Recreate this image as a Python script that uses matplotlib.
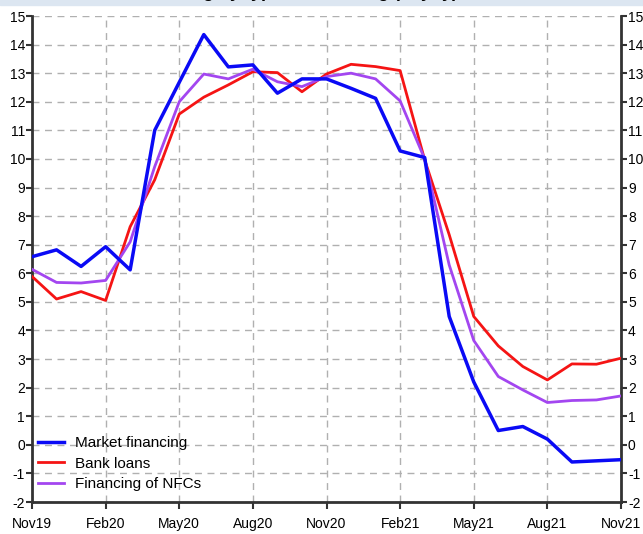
import matplotlib.pyplot as plt
from matplotlib.patches import Rectangle

plt.rcParams['axes.unicode_minus'] = False
plt.rcParams['font.family'] = ['Liberation Sans', 'DejaVu Sans']

months = ['Nov19', 'Dec19', 'Jan20', 'Feb20', 'Mar20', 'Apr20', 'May20', 'Jun20', 'Jul20',
          'Aug20', 'Sep20', 'Oct20', 'Nov20', 'Dec20', 'Jan21', 'Feb21', 'Mar21', 'Apr21',
          'May21', 'Jun21', 'Jul21', 'Aug21', 'Sep21', 'Oct21', 'Nov21']

market = [6.58, 6.82, 6.24, 6.93, 6.12, 11.0, 12.68, 14.35, 13.22, 13.29, 12.3, 12.8,
          12.8, 12.47, 12.12, 10.28, 10.05, 4.49, 2.2, 0.5, 0.64, 0.2, -0.6, -0.56, -0.52]
bank = [5.89, 5.1, 5.36, 5.05, 7.63, 9.27, 11.57, 12.16, 12.59, 13.05, 13.02, 12.35,
        12.97, 13.31, 13.23, 13.09, 9.97, 7.35, 4.49, 3.46, 2.74, 2.27, 2.83, 2.82, 3.03]
nfc = [6.14, 5.68, 5.66, 5.75, 7.1, 9.73, 12.0, 12.97, 12.8, 13.14, 12.7, 12.53,
       12.88, 13.0, 12.8, 12.03, 10.0, 6.29, 3.65, 2.39, 1.92, 1.48, 1.55, 1.57, 1.71]

x = list(range(len(months)))

fig = plt.figure(figsize=(6.43, 5.34), dpi=100)
fig.patches.append(Rectangle((0, 1 - 5 / 534), 1, 5 / 534, transform=fig.transFigure,
                             color='#dce6f1', zorder=0))
# title sits above the top edge, only its descenders show
fig.text(458 / 643, 1 + 3 / 534, 'NFC financing by type of financing (% yoy)', ha='right',
         va='baseline', fontsize=13, fontweight='bold', zorder=1)

ax = fig.add_axes([32 / 643, 1 - 502 / 534, 589 / 643, 486 / 534])

ax.plot(x, market, color='#0a0af5', lw=2.5, label='Market financing', zorder=4)
ax.plot(x, bank, color='#f51414', lw=2.0, label='Bank loans', zorder=3)
ax.plot(x, nfc, color='#a346f0', lw=2.0, label='Financing of NFCs', zorder=3)

ax.set_xlim(0, 24)
ax.set_ylim(-2, 15)
ax.set_xticks(x[::3])
ax.set_xticklabels(months[::3])
ax.set_yticks(range(-2, 16))

ax.grid(True, color='#b0b0b0', linestyle=(0, (5, 4)), lw=1.0)
ax.set_axisbelow(True)

for side in ['left', 'right', 'bottom']:
    ax.spines[side].set_linewidth(2.0)
    ax.spines[side].set_color('#333333')
ax.spines['top'].set_visible(False)

ax.tick_params(axis='y', which='both', left=True, right=True, labelleft=True,
               labelright=True, direction='out', length=4, width=1.5, color='#333333',
               labelsize=10, pad=1)
ax.tick_params(axis='x', direction='out', length=5, width=1.5, color='#333333',
               labelsize=10, pad=6)

ax.legend(loc='lower left', bbox_to_anchor=(0.0, 0.01), frameon=False, fontsize=11,
          handlelength=1.7, handletextpad=0.7, labelspacing=0.42, borderaxespad=0.0)

fig.savefig('out.png', dpi=100)
